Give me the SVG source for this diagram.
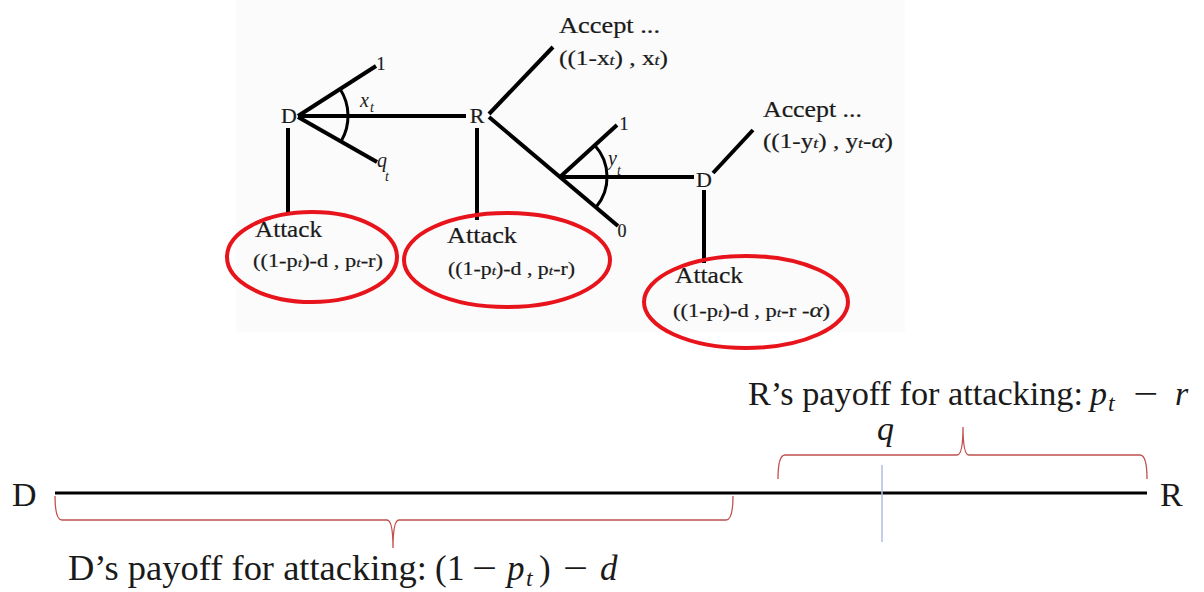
<svg xmlns="http://www.w3.org/2000/svg" width="1204" height="592" viewBox="0 0 1204 592">
<style>
.t{font-family:"Liberation Serif","Times New Roman",serif;fill:#1a1a1a}
.tr{stroke:#1a1a1a;stroke-width:0.2}
.it{font-style:italic}
.edge{stroke:#000;stroke-width:4;fill:none;stroke-linecap:butt}
.arc{stroke:#000;stroke-width:3;fill:none}
.oval{stroke:#e8141c;stroke-width:4;fill:none}
.brace{stroke:#c0504d;stroke-width:1.3;fill:none}
</style>
<rect x="0" y="0" width="1204" height="592" fill="#fff"/>
<rect x="236" y="0" width="669" height="332" fill="#fbfbfb"/>
<g id="connectors">
<line class="edge" x1="298" y1="116" x2="376" y2="66"/>
<line class="edge" x1="298" y1="117" x2="377" y2="162"/>
<line class="edge" x1="298" y1="116" x2="466" y2="116"/>
<line class="edge" x1="288" y1="128" x2="288" y2="215"/>
<path class="arc" d="M340.1,89 A50,50 0 0 1 341.4,140.8"/>
<line class="edge" x1="477" y1="128" x2="477" y2="220"/>
<line class="edge" x1="489" y1="114" x2="553" y2="47"/>
<line class="edge" x1="489" y1="117" x2="618" y2="226"/>
<line class="edge" x1="560" y1="177" x2="617" y2="125"/>
<line class="edge" x1="560" y1="177" x2="694" y2="177"/>
<path class="arc" d="M594.7,145.3 A47,47 0 0 1 596,207.3"/>
<line class="edge" x1="713" y1="173" x2="753" y2="130"/>
<line class="edge" x1="704" y1="190" x2="704" y2="263"/>
</g>
<g id="node-D1"><text class="t tr" x="289" y="123" font-size="22" text-anchor="middle">D</text></g>
<g id="node-R1"><text class="t tr" x="477" y="123" font-size="22" text-anchor="middle">R</text></g>
<g id="node-D2"><text class="t tr" x="704" y="187" font-size="22" text-anchor="middle">D</text></g>
<g id="labels">
<text class="t tr" x="381" y="70" font-size="18" text-anchor="middle">1</text>
<text class="t it" x="360" y="107" font-size="20">x</text><text class="t it" x="370" y="112" font-size="14">t</text>
<text class="t it" x="377" y="167" font-size="20">q</text><text class="t it" x="385" y="181" font-size="14">t</text>
<text class="t tr" x="624" y="130" font-size="18" text-anchor="middle">1</text>
<text class="t tr" x="622" y="237" font-size="18" text-anchor="middle">0</text>
<text class="t it" x="608" y="165" font-size="20">y</text><text class="t it" x="617" y="175" font-size="14">t</text>
</g>
<g id="node-accept1">
<text class="t tr" x="559" y="33" font-size="23" textLength="101" lengthAdjust="spacingAndGlyphs">Accept ...</text>
<text class="t tr" x="559" y="65" font-size="21" textLength="109" lengthAdjust="spacingAndGlyphs">((1-x<tspan class="it" font-size="15">t</tspan>) , x<tspan class="it" font-size="15">t</tspan>)</text>
</g>
<g id="node-accept2">
<text class="t tr" x="763" y="117" font-size="23" textLength="99" lengthAdjust="spacingAndGlyphs">Accept ...</text>
<text class="t tr" x="763" y="148" font-size="21" textLength="130" lengthAdjust="spacingAndGlyphs">((1-y<tspan class="it" font-size="15">t</tspan>) , y<tspan class="it" font-size="15">t</tspan>-<tspan class="it">α</tspan>)</text>
</g>
<g id="node-attack1">
<ellipse class="oval" cx="312" cy="257" rx="85" ry="45"/>
<text class="t tr" x="255" y="237" font-size="23" textLength="67" lengthAdjust="spacingAndGlyphs">Attack</text>
<text class="t tr" x="253" y="267" font-size="18" textLength="130" lengthAdjust="spacingAndGlyphs">((1-p<tspan class="it" font-size="13">t</tspan>)-d , p<tspan class="it" font-size="13">t</tspan>-r)</text>
</g>
<g id="node-attack2">
<ellipse class="oval" cx="507" cy="260" rx="103" ry="47"/>
<text class="t tr" x="447" y="243" font-size="23" textLength="70" lengthAdjust="spacingAndGlyphs">Attack</text>
<text class="t tr" x="448" y="275" font-size="18" textLength="127" lengthAdjust="spacingAndGlyphs">((1-p<tspan class="it" font-size="13">t</tspan>)-d , p<tspan class="it" font-size="13">t</tspan>-r)</text>
</g>
<g id="node-attack3">
<ellipse class="oval" cx="746" cy="302" rx="102" ry="46"/>
<text class="t tr" x="675" y="283" font-size="23" textLength="68" lengthAdjust="spacingAndGlyphs">Attack</text>
<text class="t tr" x="673" y="317" font-size="18" textLength="157" lengthAdjust="spacingAndGlyphs">((1-p<tspan class="it" font-size="13">t</tspan>)-d , p<tspan class="it" font-size="13">t</tspan>-r -<tspan class="it" font-size="20">α</tspan>)</text>
</g>
<g id="number-line">
<line x1="55" y1="493" x2="1147" y2="493" stroke="#000" stroke-width="3"/>
<line x1="882" y1="465" x2="882" y2="542" stroke="#b4bce0" stroke-width="1.5"/>
<path class="brace" d="M55,496 Q55,520 62,520 L387,520 Q393,520 393,548 Q393,520 399,520 L726,520 Q733,520 733,496"/>
<path class="brace" d="M778,479 Q778,455 785,455 L957,455 Q963,455 963,427 Q963,455 969,455 L1140,455 Q1147,455 1147,479"/>
<text class="t" x="12" y="506" font-size="34">D</text>
<text class="t" x="1160" y="506" font-size="34">R</text>
<text class="t it" x="877" y="440" font-size="34">q</text>
</g>
<g id="label-R-payoff">
<text class="t" x="748" y="405" font-size="34" textLength="335" lengthAdjust="spacingAndGlyphs">R’s payoff for attacking:</text>
<text class="t it" x="1090" y="405" font-size="34">p</text>
<text class="t it" x="1108" y="411" font-size="24">t</text>
<text class="t" x="1133" y="405" font-size="34" textLength="25" lengthAdjust="spacingAndGlyphs">−</text>
<text class="t it" x="1175" y="405" font-size="34">r</text>
</g>
<g id="label-D-payoff">
<text class="t" x="68" y="580" font-size="35" textLength="359" lengthAdjust="spacingAndGlyphs">D’s payoff for attacking:</text>
<text class="t" x="435" y="580" font-size="35">(</text>
<text class="t" x="447" y="580" font-size="35">1</text>
<text class="t" x="472" y="580" font-size="35" textLength="25" lengthAdjust="spacingAndGlyphs">−</text>
<text class="t it" x="507" y="580" font-size="35">p</text>
<text class="t it" x="526" y="586" font-size="24">t</text>
<text class="t" x="539" y="580" font-size="35">)</text>
<text class="t" x="563" y="580" font-size="35" textLength="25" lengthAdjust="spacingAndGlyphs">−</text>
<text class="t it" x="600" y="580" font-size="35">d</text>
</g>
</svg>
